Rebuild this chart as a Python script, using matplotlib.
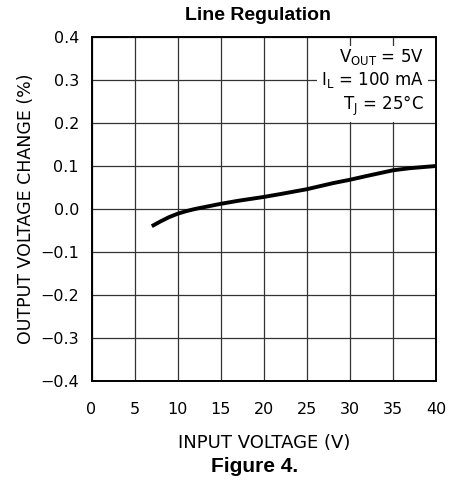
import numpy as np
import matplotlib.pyplot as plt

plt.rcParams['font.family'] = ['DejaVu Sans']
plt.rcParams['mathtext.default'] = 'regular'

# curve
vin = [7, 8, 9, 10, 11, 12, 13, 15, 17, 20, 22, 25, 28, 30, 32, 35, 37, 40]
dvout = [-0.040, -0.029, -0.019, -0.011, -0.005, 0.000, 0.004, 0.012, 0.019, 0.028, 0.035, 0.046, 0.060, 0.068, 0.077, 0.090, 0.095, 0.100]

xticks = [0, 5, 10, 15, 20, 25, 30, 35, 40]
yticks = [0.4, 0.3, 0.2, 0.1, 0.0, -0.1, -0.2, -0.3, -0.4]
ytick_labels = ['0.4', '0.3', '0.2', '0.1', '0.0', '\u22120.1', '\u22120.2', '\u22120.3', '\u22120.4']

fig = plt.figure(figsize=(4.53, 4.83), dpi=100)
ax = fig.add_axes([91.5 / 453, 1 - 381 / 483, (436 - 91.5) / 453, (381 - 37) / 483])

ax.plot(vin, dvout, color='black', linewidth=2.8, solid_capstyle='butt', zorder=4)

ax.set_xlim(0, 40)
ax.set_ylim(-0.4, 0.4)
ax.set_xticks(xticks)
ax.set_yticks(yticks)
ax.set_yticklabels(ytick_labels)
ax.tick_params(axis='y', length=0, labelsize=11.5, pad=9)
ax.tick_params(axis='x', length=0, labelsize=11.5, pad=15)
ax.set_axisbelow(True)
ax.grid(True, color='#333333', linewidth=0.9)
for s in ax.spines.values():
    s.set_linewidth(1.4)

ax.set_xlabel('INPUT VOLTAGE (V)', fontsize=13, labelpad=12)
ax.set_ylabel('OUTPUT VOLTAGE CHANGE (%)', fontsize=12.5, labelpad=4)

ax.text(0.965, 0.97, '$V_{OUT}$ = 5V\n$I_L$ = 100 mA\n$T_J$ = 25\u00b0C',
        transform=ax.transAxes, ha='right', va='top', fontsize=12,
        linespacing=1.2, zorder=3,
        bbox=dict(facecolor='white', edgecolor='none', pad=3))

fig.text(258 / 453, 1 - 15 / 483, 'Line Regulation', ha='center', va='center',
         fontsize=14, fontweight='bold', family='Liberation Sans')
fig.text(255 / 453, 1 - 466 / 483, 'Figure 4.', ha='center', va='center',
         fontsize=15, fontweight='bold', family='Liberation Sans')

fig.savefig('out.png', dpi=100)
